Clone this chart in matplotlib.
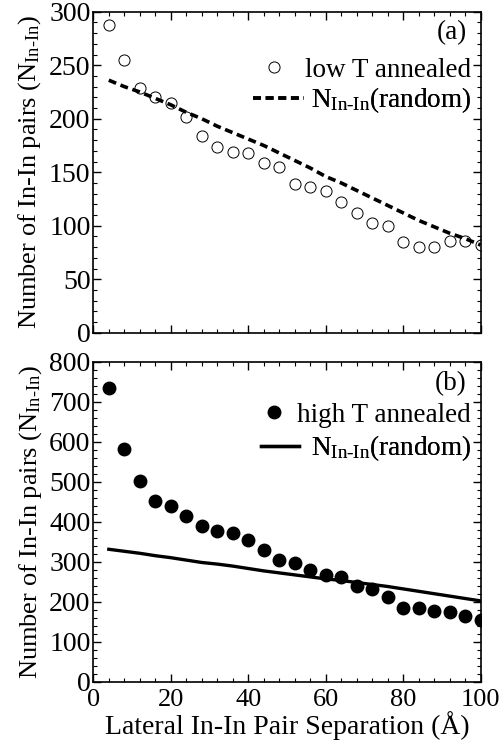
import matplotlib
matplotlib.use("Agg")
import matplotlib.pyplot as plt
from matplotlib.ticker import MultipleLocator

plt.rcParams['font.family'] = ['Liberation Serif', 'DejaVu Serif']
plt.rcParams['mathtext.fontset'] = 'custom'
plt.rcParams['mathtext.rm'] = 'Liberation Serif'
plt.rcParams['mathtext.it'] = 'Liberation Serif'

# lateral pair separation (A)
sep = [4, 8, 12, 16, 20, 24, 28, 32, 36, 40, 44, 48, 52,
       56, 60, 64, 68, 72, 76, 80, 84, 88, 92, 96, 100]

# (a) low T annealed
low_T = [288, 255, 229, 220, 215, 202, 184, 174, 169, 168, 159, 155, 139,
         136, 132, 122, 112, 103, 100, 85, 80, 80, 86, 86, 82]
rand_a = [236, 230, 225, 219, 213, 206, 200, 193, 187, 181, 175, 168, 161,
          154, 146, 140, 133, 126, 119, 112, 105, 99, 93, 88, 82]

# (b) high T annealed
high_T = [735, 582, 501, 452, 438, 414, 390, 377, 371, 353, 328, 303, 296,
          278, 267, 261, 238, 232, 211, 185, 183, 177, 173, 164, 153]
rand_b = [331, 326, 321, 315, 310, 304, 298, 294, 289, 283, 277, 272, 267,
          262, 257, 253, 248, 243, 238, 232, 226, 220, 214, 208, 202]

nlab = r'N$_{\rm In‐In}$'
ylab = 'Number of In-In pairs (' + nlab + ')'
fs = 19.5


def one_legend(ax, handle, label, y, hl, pad):
    lg = ax.legend([handle], [label], loc='center right', bbox_to_anchor=(0.975, y),
                   frameon=False, fontsize=fs, handlelength=hl, handletextpad=pad,
                   borderaxespad=0, borderpad=0)
    ax.add_artist(lg)


fig = plt.figure(figsize=(4.99, 7.46), dpi=100)
ax1 = fig.add_axes([0.187, 0.554, 0.776, 0.4303])
ax2 = fig.add_axes([0.187, 0.0862, 0.776, 0.429])

p1, = ax1.plot(sep, low_T, 'o', mfc='white', mec='black', mew=0.7, ms=8)
l1, = ax1.plot(sep, rand_a, color='black', lw=2.6, dashes=(2.2, 1.3))
ax1.set_ylim(0, 300)
ax1.yaxis.set_major_locator(MultipleLocator(50))
ax1.yaxis.set_minor_locator(MultipleLocator(10))
ax1.text(0.965, 0.934, '(a)', transform=ax1.transAxes, ha='right', va='center', fontsize=fs)
one_legend(ax1, p1, 'low T annealed', 0.818, 0.8, 0.75)
one_legend(ax1, l1, nlab + '(random)', 0.725, 1.9, 0.25)

p2, = ax2.plot(sep, high_T, 'o', color='black', ms=9)
l2, = ax2.plot(sep, rand_b, color='black', lw=2.4)
ax2.set_ylim(0, 800)
ax2.yaxis.set_major_locator(MultipleLocator(100))
ax2.yaxis.set_minor_locator(MultipleLocator(20))
ax2.text(0.965, 0.930, '(b)', transform=ax2.transAxes, ha='right', va='center', fontsize=fs)
one_legend(ax2, p2, 'high T annealed', 0.833, 0.8, 0.45)
one_legend(ax2, l2, nlab + '(random)', 0.730, 1.4, 0.45)
ax2.set_xlabel('Lateral In-In Pair Separation (Å)', fontsize=20, labelpad=0)

for ax in (ax1, ax2):
    ax.set_xlim(0, 100)
    ax.xaxis.set_major_locator(MultipleLocator(20))
    ax.xaxis.set_minor_locator(MultipleLocator(4))
    ax.tick_params(which='both', direction='in', top=True, right=True, labelsize=20)
    ax.tick_params(axis='y', pad=2)
    ax.tick_params(axis='x', pad=5, labelsize=19)
    ax.tick_params(which='major', length=6, width=1.0)
    ax.tick_params(which='minor', length=3, width=0.8)
    ax.set_ylabel(ylab, fontsize=19, labelpad=4)
    for s in ax.spines.values():
        s.set_linewidth(1.2)
ax1.tick_params(labelbottom=False)

fig.savefig('out.png', dpi=100)
